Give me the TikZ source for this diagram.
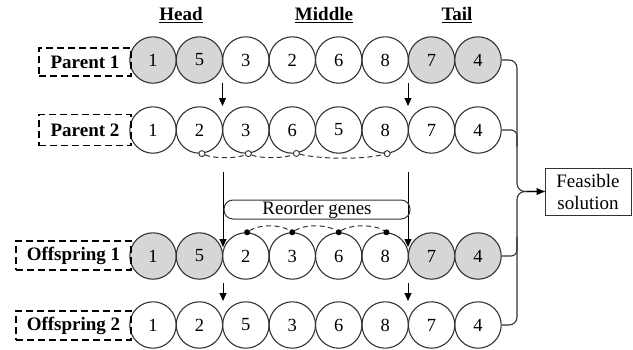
\documentclass[tikz,border=0pt]{standalone}
\usepackage{fontspec}
\setmainfont{Liberation Serif}
\usetikzlibrary{arrows.meta,calc}
\definecolor{genefill}{HTML}{D6D6D6}
\definecolor{rim}{HTML}{333333}
\begin{document}
\begin{tikzpicture}[x=1pt,y=-1pt,
  gene/.style={circle,draw=rim,line width=1.1pt,minimum size=46.4pt,inner sep=0pt,
    font=\fontsize{18.5}{20}\selectfont},
  kept/.style={gene,fill=genefill},
  tag/.style={draw=black,dash pattern=on 7pt off 4pt,line width=1.4pt,inner sep=0pt,
    font=\bfseries\fontsize{19}{20}\selectfont},
  hdr/.style={font=\bfseries\fontsize{19}{20}\selectfont},
  tip/.style={-{Triangle[length=8pt,width=7pt]},line width=1pt},
  link/.style={line width=1.1pt,draw=rim},
  swap/.style={dash pattern=on 5pt off 3.5pt,line width=1pt,draw=rim},
  ring/.style={circle,draw=rim,fill=white,line width=0.9pt,minimum size=6pt,inner sep=0pt},
  dot/.style={circle,fill=black,minimum size=6pt,inner sep=0pt}]
\useasboundingbox (0,0) rectangle (633,349);

% section headers
\node[hdr] (hh) at (181,15) {\underline{Head}};
\node[hdr] (hm) at (324,15) {\underline{Middle}};
\node[hdr] (ht) at (457,15) {\underline{Tail}};

% chromosome rows
\foreach \v/\s [count=\i] in {1/kept,5/kept,3/gene,2/gene,6/gene,8/gene,7/kept,4/kept}
  \node[\s] (p1-\i) at ({153+46.43*(\i-1)},60) {\v};
\foreach \v/\s [count=\i] in {1/gene,2/gene,3/gene,6/gene,5/gene,8/gene,7/gene,4/gene}
  \node[\s] (p2-\i) at ({153+46.43*(\i-1)},130) {\v};
\foreach \v/\s [count=\i] in {1/kept,5/kept,2/gene,3/gene,6/gene,8/gene,7/kept,4/kept}
  \node[\s] (o1-\i) at ({153+46.43*(\i-1)},256) {\v};
\foreach \v/\s [count=\i] in {1/gene,2/gene,5/gene,3/gene,6/gene,8/gene,7/gene,4/gene}
  \node[\s] (o2-\i) at ({153+46.43*(\i-1)},325) {\v};

% row labels
\node[tag,minimum width=92pt,minimum height=28pt] (lp1) at (85,62) {Parent 1};
\node[tag,minimum width=92pt,minimum height=31pt] (lp2) at (85,130) {Parent 2};
\node[tag,minimum width=115pt,minimum height=29pt] (lo1) at (73.5,255.5) {Offspring 1};
\node[tag,minimum width=115pt,minimum height=29pt] (lo2) at (73.5,325.5) {Offspring 2};

% cut points between rows
\coordinate (c1a) at (222.5,83);  \coordinate (c1b) at (222.5,106);
\coordinate (c2a) at (408,83);    \coordinate (c2b) at (408,106);
\coordinate (c3a) at (223,172);   \coordinate (c3b) at (223,247);
\coordinate (c4a) at (408,172);   \coordinate (c4b) at (408,247);
\coordinate (c5a) at (223,283);   \coordinate (c5b) at (223,301);
\coordinate (c6a) at (408,283);   \coordinate (c6b) at (408,301);
\draw[tip] (c1a) -- (c1b);
\draw[tip] (c2a) -- (c2b);
\draw[tip] (c3a) -- (c3b);
\draw[tip] (c4a) -- (c4b);
\draw[tip] (c5a) -- (c5b);
\draw[tip] (c6a) -- (c6b);

% reorder step
\node[draw=rim,line width=1pt,rounded corners=9pt,minimum width=186pt,minimum height=19pt,
  inner sep=0pt,font=\fontsize{19}{20}\selectfont] (ro) at (317,209.5) {Reorder genes};

% middle genes traced in parent 2
\node[ring] (m1) at (p2-2.-84) {};
\node[ring] (m2) at (p2-3.-84) {};
\node[ring] (m3) at (p2-4.-80) {};
\node[ring] (m4) at (p2-6.-85) {};
\draw[swap] (m1) .. controls +(12,5) and +(-12,5) .. (m2);
\draw[swap] (m2) .. controls +(12,5) and +(-12,5) .. (m3);
\draw[swap] (m3) .. controls +(25,6) and +(-25,6) .. (m4);

% reordered genes in offspring 1
\node[dot] (d1) at (o1-3.87) {};
\node[dot] (d2) at (o1-4.90) {};
\node[dot] (d3) at (o1-5.90) {};
\node[dot] (d4) at (o1-6.87) {};
\draw[swap] (d1) .. controls +(12,-8) and +(-12,-8) .. (d2);
\draw[swap] (d2) .. controls +(12,-8) and +(-12,-8) .. (d3);
\draw[swap] (d3) .. controls +(12,-8) and +(-12,-8) .. (d4);

% feasible solution collector
\node[draw=rim,line width=1pt,minimum width=86pt,minimum height=47pt,inner sep=0pt,
  align=center,font=\fontsize{19}{22}\selectfont] (fs) at (588,191.5) {Feasible\\solution};
\coordinate (bus) at (517,191.5);
\draw[link,rounded corners=8pt] (p1-8.east) -| (bus) -- (fs.west);
\draw[link,rounded corners=8pt] (o2-8.east) -| (bus) -- (fs.west);
\draw[link,rounded corners=6pt] (p2-8.east) -| ($(bus)+(0,-45)$);
\draw[link,rounded corners=6pt] (o1-8.east) -| ($(bus)+(0,45)$);
\draw[tip] ($(bus)+(10,0)$) -- (fs.west);
\end{tikzpicture}
\end{document}
